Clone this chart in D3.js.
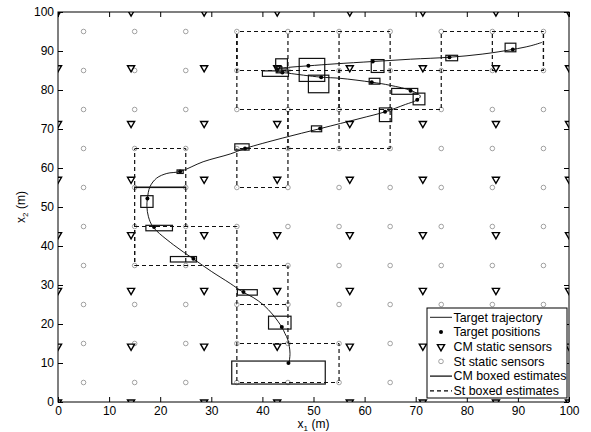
<!DOCTYPE html>
<html>
<head>
<meta charset="utf-8">
<script src="https://cdn.jsdelivr.net/npm/d3@7"></script>
<style>
  body { margin: 0; background: #fff; }
  svg { display: block; font-family: Arial, "Liberation Sans", sans-serif; }
</style>
</head>
<body>
<div id="chart"></div>
<script>
// Sensor grids
const cmSensorX = [0, 14.3, 28.6, 42.9, 57.1, 71.4, 85.7, 100];
const cmSensorY = [0, 14.3, 28.6, 42.9, 57.1, 71.4, 85.7, 100];
const stSensorX = [5, 15, 25, 35, 45, 55, 65, 75, 85, 95];
const stSensorY = [5, 15, 25, 35, 45, 55, 65, 75, 85, 95];

// Target trajectory
const trajectory = [
  [45.2, 9.9], [45.4, 12.5], [45.0, 15.9], [44.4, 17.6], [43.8, 19.2], [42.1, 22.3],
  [40.2, 24.9], [38.2, 26.8], [36.3, 28.1], [33.7, 30.4], [30.0, 33.5], [26.5, 36.7],
  [22.6, 40.3], [18.6, 44.9], [17.7, 47.5], [17.4, 50.1], [17.5, 52.2], [18.0, 55.2],
  [19.3, 57.4], [21.3, 58.6], [23.9, 59.1], [28.4, 61.6], [33.7, 63.6], [36.6, 65.0],
  [44.0, 67.7], [51.3, 70.1], [59.1, 72.7], [64.0, 74.4], [68.0, 76.3], [70.2, 77.4],
  [70.9, 78.4], [69.2, 79.8], [65.0, 81.2], [61.4, 82.0], [55.2, 83.0], [51.4, 83.3],
  [45.1, 84.3], [43.9, 84.5], [42.6, 85.0], [42.8, 85.4], [45.1, 85.8], [49.0, 86.2],
  [54.2, 86.7], [61.6, 87.3], [69.0, 87.9], [76.6, 88.4], [83.0, 89.2], [89.0, 90.4],
  [92.4, 91.3], [94.7, 92.2]
];

// Target positions
const positions = [
  [45.1, 10.0], [43.8, 19.2], [36.3, 28.2], [26.5, 36.7], [18.8, 44.9], [17.5, 52.2],
  [23.9, 59.1], [36.6, 65.0], [51.3, 70.1], [64.0, 74.4], [70.3, 77.5], [69.0, 79.8],
  [61.4, 82.0], [51.5, 83.3], [43.9, 84.5], [42.8, 85.4], [49.0, 86.2], [61.6, 87.3],
  [76.6, 88.4], [89.0, 90.4]
];

// CM boxed estimates [x0, x1, y0, y1]
const cmBoxes = [
  [34.0, 52.3, 4.6, 10.5], [41.2, 45.6, 18.7, 22.0], [35.1, 39.0, 27.4, 28.8],
  [22.0, 27.1, 35.9, 37.3], [17.2, 22.4, 43.9, 45.3], [16.2, 18.6, 49.9, 52.9],
  [15.0, 25.0, 55.0, 55.1], [23.3, 24.5, 58.6, 59.5], [34.6, 37.4, 64.6, 66.2],
  [49.6, 51.6, 69.3, 70.8], [62.9, 65.3, 71.9, 75.4], [69.5, 71.8, 76.2, 79.2],
  [65.3, 70.4, 78.9, 80.4], [60.9, 63.0, 81.5, 83.0], [49.0, 53.0, 79.3, 83.8],
  [40.0, 45.1, 83.5, 84.9], [42.7, 43.8, 84.4, 86.0], [42.6, 44.9, 85.4, 88.0],
  [47.2, 52.2, 82.2, 88.1], [61.3, 63.8, 84.5, 87.8], [75.9, 78.2, 87.5, 88.9],
  [87.5, 89.6, 89.8, 92.0]
];

// St boxed estimates [x0, x1, y0, y1]
const stBoxes = [
  [35, 55, 5, 15], [35, 45, 15, 25], [35, 45, 25, 35], [15, 35, 35, 45],
  [15, 25, 35, 55], [15, 25, 55, 65], [35, 45, 55, 65], [35, 55, 75, 95],
  [35, 45, 85, 95], [35, 65, 85, 95], [45, 65, 65, 85], [45, 55, 65, 75],
  [55, 75, 75, 85], [75, 95, 85, 95], [85, 95, 85, 95]
];

const ticks = [0, 10, 20, 30, 40, 50, 60, 70, 80, 90, 100];
const legendLabels = ['Target trajectory', 'Target positions', 'CM static sensors',
  'St static sensors', 'CM boxed estimates', 'St boxed estimates'];

const W = 591, H = 432;
const m = { left: 58, right: 22, top: 12, bottom: 30 };
const DASH = [4, 3];
const PERIOD = DASH[0] + DASH[1];

const svg = d3.select('#chart').append('svg')
  .attr('width', W).attr('height', H);

svg.append('rect').attr('width', W).attr('height', H).attr('fill', '#fff');

const x = d3.scaleLinear().domain([0, 100]).range([m.left, W - m.right]);
const y = d3.scaleLinear().domain([0, 100]).range([H - m.bottom, m.top]);

svg.append('defs').append('clipPath').attr('id', 'plot-clip')
  .append('rect')
  .attr('x', x(0)).attr('y', y(100))
  .attr('width', x(100) - x(0)).attr('height', y(0) - y(100));

const plot = svg.append('g').attr('clip-path', 'url(#plot-clip)');

// St static sensors
const stGrid = [];
stSensorX.forEach(sx => stSensorY.forEach(sy => stGrid.push([sx, sy])));
plot.selectAll('.st-sensor').data(stGrid).enter().append('circle')
  .attr('class', 'st-sensor')
  .attr('cx', d => x(d[0])).attr('cy', d => y(d[1])).attr('r', 2.3)
  .attr('fill', 'none').attr('stroke', '#8a8a8a').attr('stroke-width', 0.8);

// CM static sensors (down triangles)
const cmGrid = [];
cmSensorX.forEach(sx => cmSensorY.forEach(sy => cmGrid.push([sx, sy])));
const tri = d3.symbol().type(d3.symbolTriangle).size(22);
plot.selectAll('.cm-sensor').data(cmGrid).enter().append('path')
  .attr('class', 'cm-sensor')
  .attr('d', tri)
  .attr('transform', d => 'translate(' + x(d[0]) + ',' + y(d[1]) + ') rotate(180)')
  .attr('fill', 'none').attr('stroke', '#000').attr('stroke-width', 1.4);

// Target trajectory
plot.append('path')
  .datum(trajectory)
  .attr('d', d3.line().x(d => x(d[0])).y(d => y(d[1])).curve(d3.curveCatmullRom))
  .attr('fill', 'none').attr('stroke', '#000').attr('stroke-width', 0.9);

// Target positions
plot.selectAll('.pos').data(positions).enter().append('circle')
  .attr('class', 'pos')
  .attr('cx', d => x(d[0])).attr('cy', d => y(d[1])).attr('r', 2)
  .attr('fill', '#000');

// CM boxes
plot.selectAll('.cm-box').data(cmBoxes).enter().append('rect')
  .attr('class', 'cm-box')
  .attr('x', d => x(d[0])).attr('y', d => y(d[3]))
  .attr('width', d => x(d[1]) - x(d[0])).attr('height', d => y(d[2]) - y(d[3]))
  .attr('fill', 'none').attr('stroke', '#111').attr('stroke-width', 1.2);

// St boxes, split into edges so overlapping dashes line up
const stEdges = [];
stBoxes.forEach(b => {
  stEdges.push({ x1: x(b[0]), x2: x(b[1]), y1: y(b[2]), y2: y(b[2]) });
  stEdges.push({ x1: x(b[0]), x2: x(b[1]), y1: y(b[3]), y2: y(b[3]) });
  stEdges.push({ x1: x(b[0]), x2: x(b[0]), y1: y(b[2]), y2: y(b[3]) });
  stEdges.push({ x1: x(b[1]), x2: x(b[1]), y1: y(b[2]), y2: y(b[3]) });
});
plot.selectAll('.st-edge').data(stEdges).enter().append('line')
  .attr('class', 'st-edge')
  .attr('x1', d => d.x1).attr('x2', d => d.x2)
  .attr('y1', d => d.y1).attr('y2', d => d.y2)
  .attr('fill', 'none').attr('stroke', '#111').attr('stroke-width', 1.2)
  .attr('stroke-dasharray', DASH.join(','))
  .attr('stroke-dashoffset', d => {
    let off = d.y1 === d.y2 ? d.x1 - x(0) : y(0) - d.y1;
    return ((off % PERIOD) + PERIOD) % PERIOD;
  });

// Axes, ticks pointing inward
const fmt = d3.format('d');
const xAxis = svg.append('g').attr('transform', 'translate(0,' + y(0) + ')')
  .call(d3.axisBottom(x).tickValues(ticks).tickFormat(fmt).tickSize(-5).tickSizeOuter(0).tickPadding(4));
const yAxis = svg.append('g').attr('transform', 'translate(' + x(0) + ',0)')
  .call(d3.axisLeft(y).tickValues(ticks).tickFormat(fmt).tickSize(-5).tickSizeOuter(0).tickPadding(4));
const xTop = svg.append('g').attr('transform', 'translate(0,' + y(100) + ')')
  .call(d3.axisTop(x).tickValues(ticks).tickFormat('').tickSize(-5).tickSizeOuter(0));
const yRight = svg.append('g').attr('transform', 'translate(' + x(100) + ',0)')
  .call(d3.axisRight(y).tickValues(ticks).tickFormat('').tickSize(-5).tickSizeOuter(0));

[xAxis, yAxis, xTop, yRight].forEach(a => {
  a.select('.domain').remove();
  a.selectAll('line').attr('stroke', '#000');
  a.selectAll('text').attr('fill', '#000').attr('font-size', 12)
    .attr('font-family', 'Arial, "Liberation Sans", sans-serif');
});

svg.append('rect')
  .attr('x', x(0)).attr('y', y(100))
  .attr('width', x(100) - x(0)).attr('height', y(0) - y(100))
  .attr('fill', 'none').attr('stroke', '#000').attr('stroke-width', 1);

// Axis labels
const xl = svg.append('text')
  .attr('x', (x(0) + x(100)) / 2).attr('y', 428)
  .attr('text-anchor', 'middle').attr('font-size', 12);
xl.append('tspan').text('x');
xl.append('tspan').attr('font-size', 8).attr('dy', 3).text('1');
xl.append('tspan').attr('dy', -3).text(' (m)');

const yl = svg.append('text')
  .attr('transform', 'translate(25,' + (y(0) + y(100)) / 2 + ') rotate(-90)')
  .attr('text-anchor', 'middle').attr('font-size', 12);
yl.append('tspan').text('x');
yl.append('tspan').attr('font-size', 8).attr('dy', 3).text('2');
yl.append('tspan').attr('dy', -3).text(' (m)');

// Legend
const lg = svg.append('g');
lg.append('rect')
  .attr('x', 427).attr('y', 308).attr('width', 140).attr('height', 90)
  .attr('fill', '#fff').attr('stroke', '#000').attr('stroke-width', 1);

const rowY = i => 317.3 + i * 14.7;
legendLabels.forEach((label, i) => {
  const ry = rowY(i);
  if (i === 0 || i === 4 || i === 5) {
    lg.append('line').attr('x1', 430).attr('x2', 452).attr('y1', ry).attr('y2', ry)
      .attr('stroke', '#000').attr('stroke-width', i === 0 ? 0.9 : 1.2)
      .attr('stroke-dasharray', i === 5 ? DASH.join(',') : null);
  } else if (i === 1) {
    lg.append('circle').attr('cx', 441).attr('cy', ry).attr('r', 2).attr('fill', '#000');
  } else if (i === 2) {
    lg.append('path').attr('d', tri)
      .attr('transform', 'translate(441,' + ry + ') rotate(180)')
      .attr('fill', 'none').attr('stroke', '#000').attr('stroke-width', 1.4);
  } else {
    lg.append('circle').attr('cx', 441).attr('cy', ry).attr('r', 2.3)
      .attr('fill', 'none').attr('stroke', '#8a8a8a').attr('stroke-width', 0.8);
  }
  lg.append('text').attr('x', 453.5).attr('y', ry).attr('dy', '0.35em')
    .attr('font-size', 12.4).text(label);
});
</script>
</body>
</html>
